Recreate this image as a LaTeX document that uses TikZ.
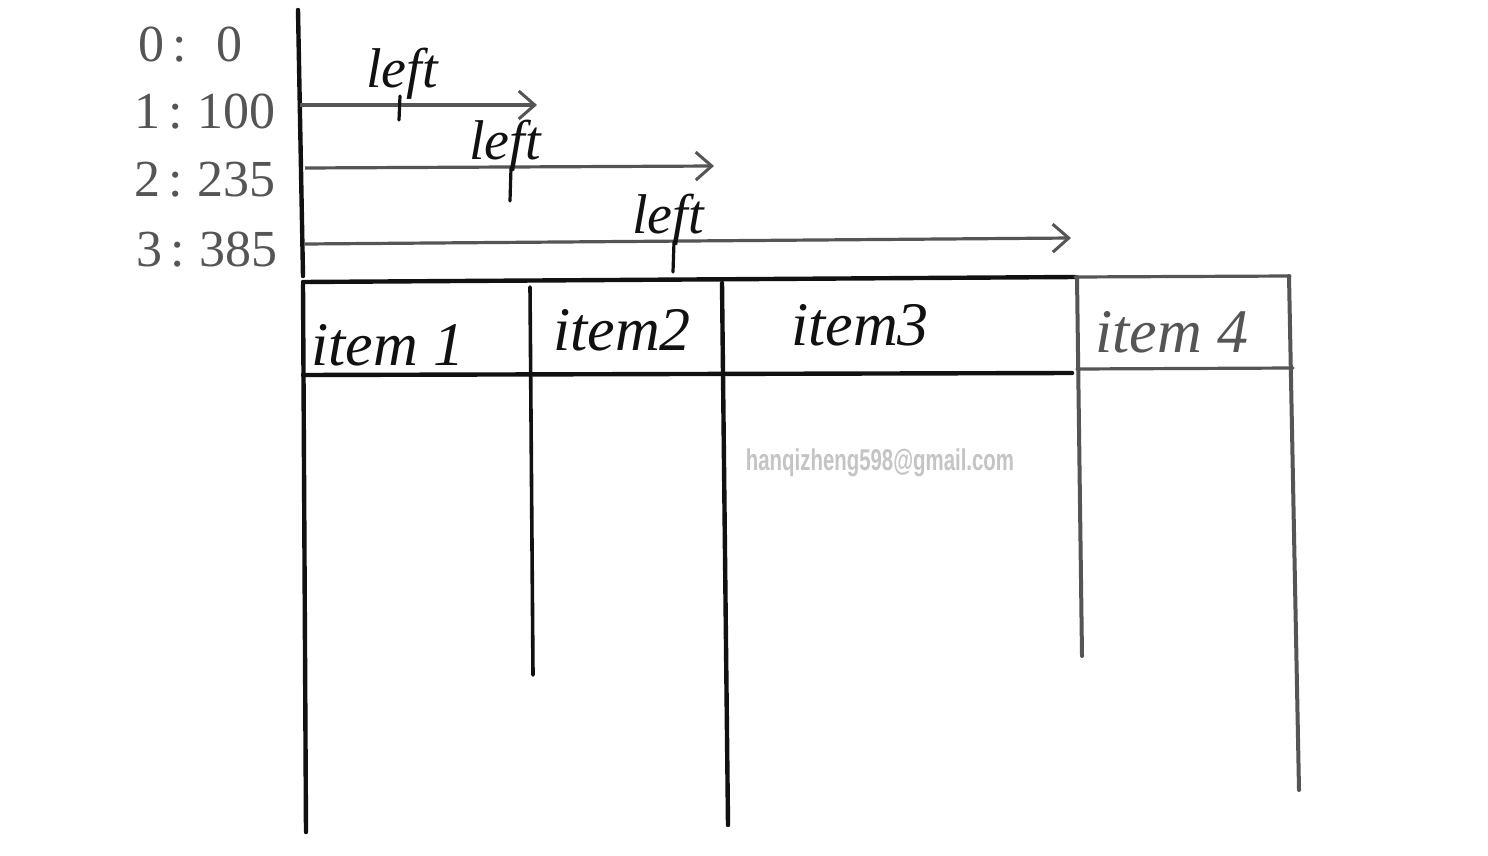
\documentclass[tikz,border=0pt]{standalone}
\usepackage{fontspec}
\setmainfont{Liberation Serif}
\newfontfamily\wmfont{Liberation Sans}
\usetikzlibrary{arrows.meta}
\definecolor{ink}{HTML}{111111}
\definecolor{pencil}{HTML}{555555}
\definecolor{wm}{HTML}{C4C4C4}
\begin{document}
\begin{tikzpicture}[x=0.5pt,y=-0.5pt,
  thick ink/.style={draw=ink,line width=2.2pt,line cap=round},
  grid line/.style={draw=pencil,line width=1.6pt,line cap=round},
  barrow/.style={draw=pencil,line width=1.6pt,-{Straight Barb[length=8pt,width=14pt,line width=1.5pt]}},
  fstem/.style={draw=ink,line width=1.6pt,line cap=round},
  idx/.style={text=pencil,font=\fontsize{26}{30}\selectfont,inner sep=0pt},
  lefttxt/.style={text=ink,font=\itshape\fontsize{28}{30}\selectfont,inner sep=0pt},
  itemtxt/.style={text=ink,font=\itshape\fontsize{31}{34}\selectfont,inner sep=0pt},
  wmtxt/.style={text=wm,font=\wmfont\bfseries\fontsize{15}{18}\selectfont,xscale=0.68,inner sep=0pt}]
\useasboundingbox[fill=white] (0,0) rectangle (1488,856);

% index labels
\node[idx] (l0) at (190,45) {0\,:\;\;0};
\node[idx] (l1) at (205,112) {1\,:\;100};
\node[idx] (l2) at (205,180) {2\,:\;235};
\node[idx] (l3) at (207,250) {3\,:\;385};

% axis
\coordinate (axtop) at (298,10);
\coordinate (axbot) at (303,276);
\draw[thick ink] (axtop) -- (axbot);

% arrows
\coordinate (a1s) at (300,105);
\coordinate (a1e) at (537,105);
\coordinate (a2s) at (305,168);
\coordinate (a2e) at (714,166);
\coordinate (a3s) at (305,244);
\coordinate (a3e) at (1071,238);
\draw[barrow] (a1s) -- (a1e);
\draw[barrow] (a2s) -- (a2e);
\draw[barrow] (a3s) -- (a3e);

\node[lefttxt] (t1) at (402,74) {left};
\node[lefttxt] (t2) at (505,146) {left};
\node[lefttxt] (t3) at (668,220) {left};
% long stems of the f below the text
\coordinate (f1a) at (400,96); \coordinate (f1b) at (399,120);
\coordinate (f2a) at (511,168); \coordinate (f2b) at (510,201);
\coordinate (f3a) at (674,242); \coordinate (f3b) at (673,272);
\draw[fstem] (f1a) -- (f1b);
\draw[fstem] (f2a) -- (f2b);
\draw[fstem] (f3a) -- (f3b);

% table
\coordinate (tl) at (303,282);
\coordinate (tm) at (1075,277);
\coordinate (tr) at (1290,276);
\coordinate (hl) at (303,375);
\coordinate (hm) at (1072,373);
\coordinate (hm2) at (1077,369);
\coordinate (hr) at (1293,368);
\draw[thick ink] (tl) -- (tm);
\draw[grid line] (tm) -- (tr);
\draw[thick ink] (hl) -- (hm);
\draw[grid line] (hm2) -- (hr);

\coordinate (c0t) at (303,284); \coordinate (c0b) at (306,832);
\coordinate (c1t) at (530,287); \coordinate (c1b) at (533,675);
\coordinate (c2t) at (722,283); \coordinate (c2b) at (728,825);
\coordinate (c3t) at (1077,277); \coordinate (c3b) at (1082,656);
\coordinate (c4t) at (1289,276); \coordinate (c4b) at (1299,790);
\draw[thick ink] (c0t) -- (c0b);
\draw[thick ink,line width=1.8pt] (c1t) -- (c1b);
\draw[thick ink] (c2t) -- (c2b);
\draw[grid line,line width=2pt] (c3t) -- (c3b);
\draw[grid line,line width=2pt] (c4t) -- (c4b);

\node[itemtxt] (i1) at (388,345) {item 1};
\node[itemtxt] (i2) at (622,330) {item2};
\node[itemtxt] (i3) at (860,325) {item3};
\node[itemtxt,text=pencil] (i4) at (1172,332) {item 4};

\node[wmtxt] (wm) at (880,463) {hanqizheng598@gmail.com};
\end{tikzpicture}
\end{document}
